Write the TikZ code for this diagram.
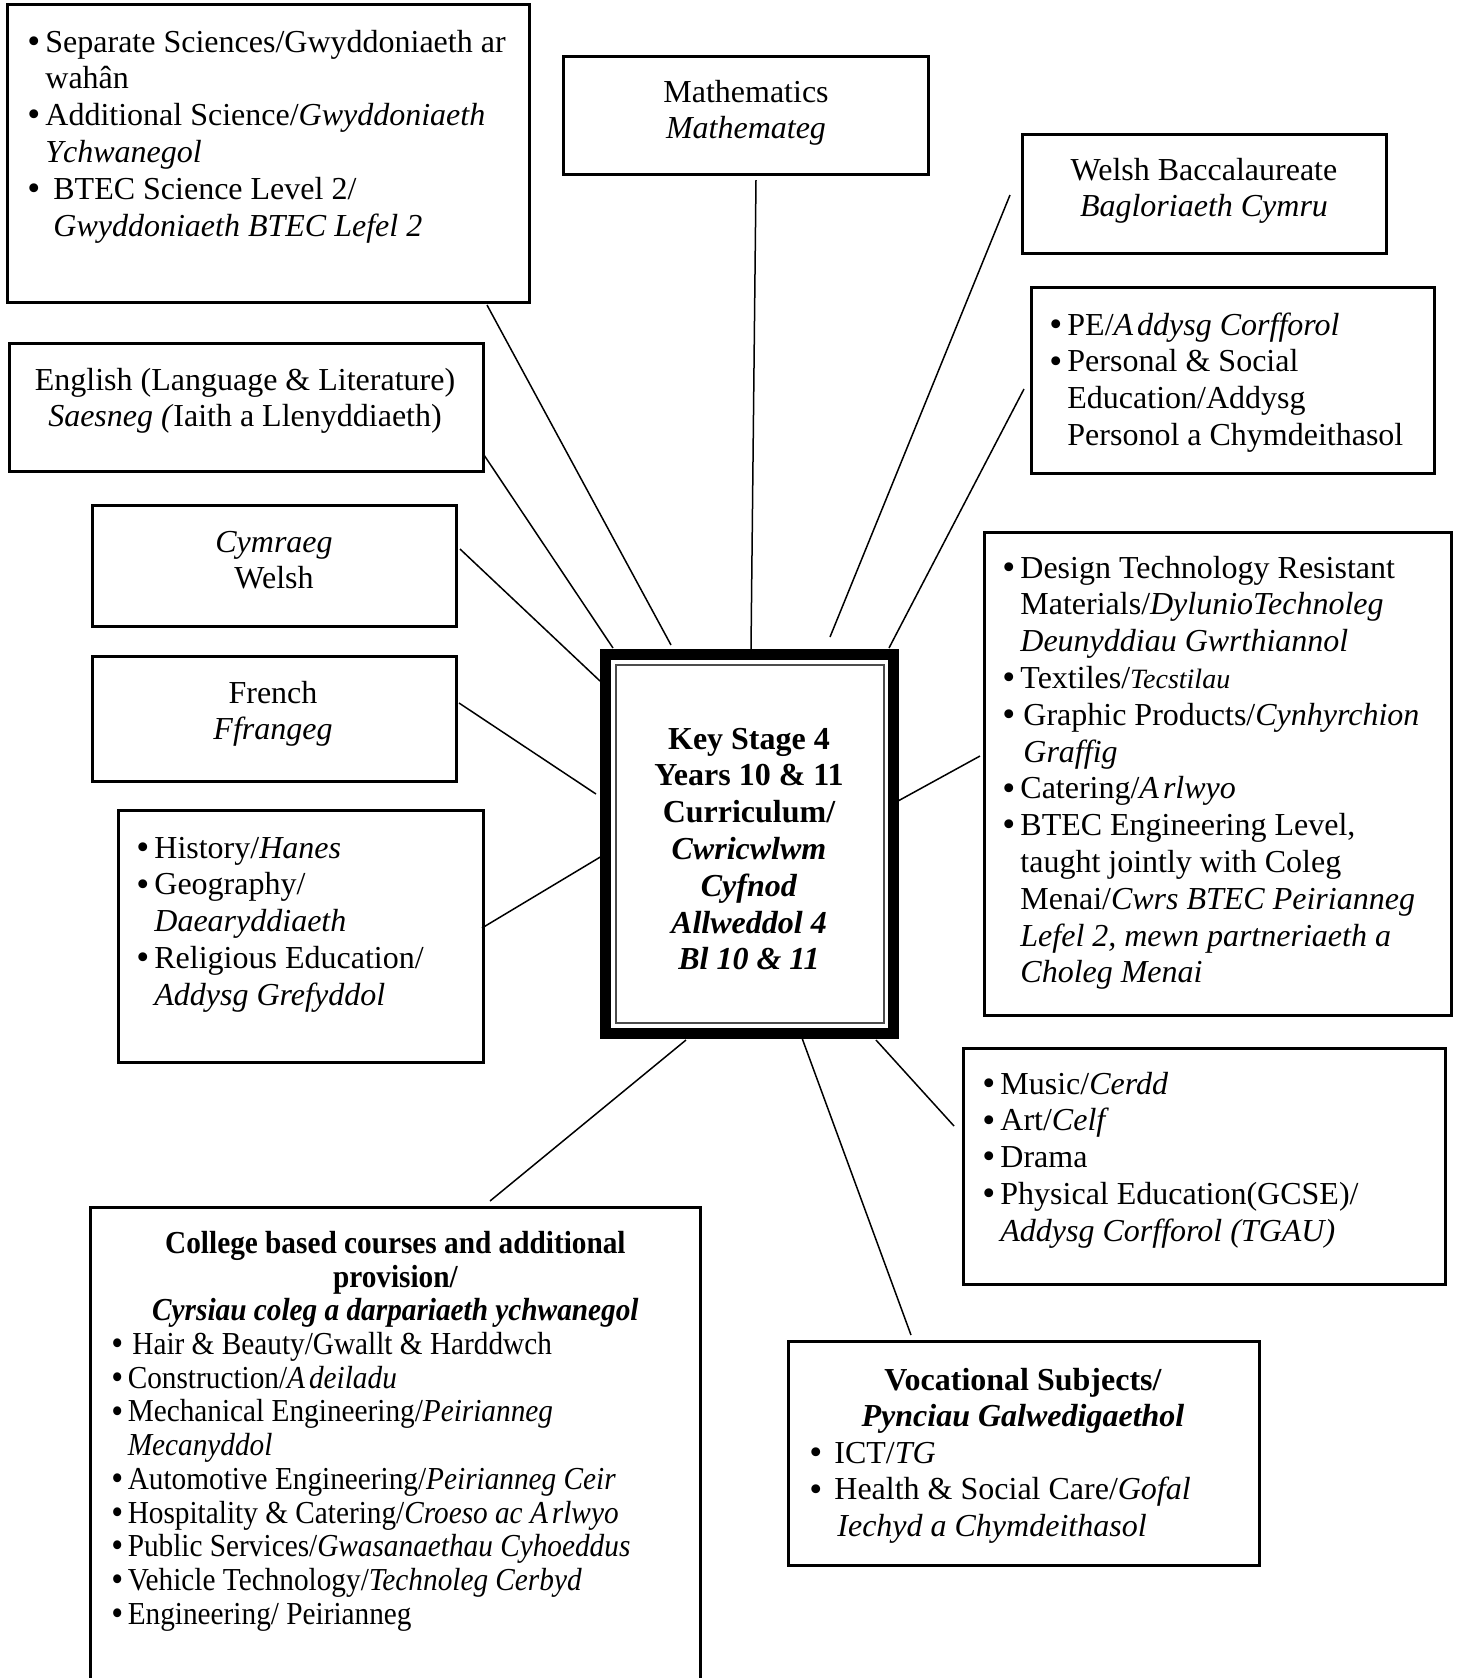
\documentclass[tikz,border=0pt]{standalone}
\usepackage{fontspec}
\setmainfont{Liberation Serif}
\newfontfamily\condfont[FakeStretch=0.915]{Liberation Serif}
\usetikzlibrary{fit}
\newcommand\fs{\fontsize{16pt}{18.4pt}\selectfont}
\newcommand\fsc{\condfont\fontsize{16pt}{16.85pt}\selectfont}
\newcommand\dotb{\raisebox{-0.6pt}{\fontsize{18.5pt}{12pt}\selectfont •}}
\newcommand\bl{\strut\makebox[6.5pt][l]{\hspace*{-2.5pt}\dotb}}
\newcommand\blw{\strut\makebox[12pt][l]{\hspace*{-0.5pt}\dotb}}
\newcommand\blc{\strut\makebox[5.7pt][l]{\hspace*{-2.5pt}\dotb}}
\newcommand\ind{\strut\hspace*{6.5pt}}
\newcommand\indc{\strut\hspace*{5.7pt}}
\newcommand\ctl[1]{\makebox[279pt][c]{\bfseries #1}}
\begin{document}
\begin{tikzpicture}[x=0.5pt,y=-0.5pt]
\tikzset{
  box/.style={draw, line width=1.5pt, inner sep=0pt},
  txt/.style={inner sep=0pt, anchor=north west, align=left, font=\fs},
  ctxt/.style={inner sep=0pt, anchor=north, align=center, font=\fs},
  link/.style={line width=0.75pt},
}
\useasboundingbox (0,0) rectangle (1459,1678);
\clip (0,0) rectangle (1459,1678);
% boxes
\node[box, fit={(7,4)(529,302)}] (sci) {};
\node[box, fit={(563,56)(928,174)}] (math) {};
\node[box, fit={(1022,134)(1386,253)}] (bacc) {};
\node[box, fit={(1031,287)(1434,473)}] (pe) {};
\node[box, fit={(9,343)(483,471)}] (eng) {};
\node[box, fit={(92,505)(456,626)}] (cym) {};
\node[box, fit={(92,656)(456,781)}] (fr) {};
\node[box, fit={(118,810)(483,1062)}] (hist) {};
\node[box, fit={(984,532)(1451,1015)}] (dt) {};
\node[box, fit={(963,1048)(1445,1284)}] (mus) {};
\node[box, fit={(788,1341)(1259,1565)}] (voc) {};
\node[box, fit={(90,1207)(700,1720)}] (col) {};
% centre box
\node[inner sep=0pt, fit={(600,649)(899,1039)}] (ks) {};
\draw[line width=5.5pt] (605.5,654.5) rectangle (893.5,1033.5);
\draw[line width=0.6pt, black!70] (616,665) rectangle (884,1023);
% texts
\node[txt] (scit) at (32,26) {\bl Separate Sciences/Gwyddoniaeth ar\\
\ind wahân\\
\bl Additional Science/\textit{Gwyddoniaeth}\\
\ind \textit{Ychwanegol}\\
\bl\hspace{4pt}BTEC Science Level 2/\\
\ind\hspace{4pt}\textit{Gwyddoniaeth BTEC Lefel 2}};
\node[ctxt] (matht) at (746,76) {\strut Mathematics\\ \textit{Mathemateg}};
\node[ctxt] (bacct) at (1204,154) {\strut Welsh Baccalaureate\\ \textit{Bagloriaeth Cymru}};
\node[txt] (pet) at (1054,309) {\bl PE/\textit{A\kern2pt ddysg Corfforol}\\
\bl Personal \& Social\\
\ind Education/Addysg\\
\ind Personol a Chymdeithasol};
\node[ctxt] (engt) at (245,364) {\strut English (Language \& Literature)\\ \textit{Saesneg (}Iaith a Llenyddiaeth)};
\node[ctxt] (cymt) at (274,526) {\strut\textit{Cymraeg}\\ Welsh};
\node[ctxt] (frt) at (273,677) {\strut French\\ \textit{Ffrangeg}};
\node[txt] (histt) at (141,832) {\bl History/\textit{Hanes}\\
\bl Geography/\\
\ind \textit{Daearyddiaeth}\\
\bl Religious Education/\\
\ind \textit{Addysg Grefyddol}};
\node[ctxt, font=\fs\bfseries] (kst) at (749,723) {\strut Key Stage 4\\ Years 10 \& 11\\ Curriculum/\\
\textit{Cwricwlwm}\\ \textit{Cyfnod}\\ \textit{Allweddol 4}\\ \textit{Bl 10 \& 11}};
\node[txt] (dtt) at (1007,552) {\bl Design Technology Resistant\\
\ind Materials/\textit{DylunioTechnoleg}\\
\ind \textit{Deunyddiau Gwrthiannol}\\
\bl Textiles/{\fontsize{14pt}{18.4pt}\selectfont\textit{Tecstilau}}\\
\bl\hspace{1.5pt}Graphic Products/\textit{Cynhyrchion}\\
\ind\hspace{1.5pt}\textit{Graffig}\\
\bl Catering/\textit{A\kern2pt rlwyo}\\
\bl BTEC Engineering Level,\\
\ind taught jointly with Coleg\\
\ind Menai/\textit{Cwrs BTEC Peirianneg}\\
\ind \textit{Lefel 2, mewn partneriaeth a}\\
\ind \textit{Choleg Menai}};
\node[txt] (must) at (987,1068) {\bl Music/\textit{Cerdd}\\
\bl Art/\textit{Celf}\\
\bl Drama\\
\bl Physical Education(GCSE)/\\
\ind \textit{Addysg Corfforol (TGAU)}};
\node[ctxt, font=\fs\bfseries] (voct) at (1023,1364) {\strut Vocational Subjects/\\ \textit{Pynciau Galwedigaethol}};
\node[txt] (vocl) at (810,1437) {\blw ICT/\textit{TG}\\
\blw Health \& Social Care/\textit{Gofal}\\
\strut\hspace*{13.5pt}\textit{Iechyd a Chymdeithasol}};
\node[txt, font=\fsc] (coll) at (116,1229.4) {\strut\ctl{College based courses and additional}\\
\ctl{provision/}\\
\ctl{\itshape Cyrsiau coleg a darpariaeth ychwanegol}\\
\blc\hspace{2.3pt}Hair \& Beauty/Gwallt \& Harddwch\\
\blc Construction/\textit{A\kern2pt deiladu}\\
\blc Mechanical Engineering/\textit{Peirianneg}\\
\indc \textit{Mecanyddol}\\
\blc Automotive Engineering/\textit{Peirianneg Ceir}\\
\blc Hospitality \& Catering/\textit{Croeso ac A\kern2pt rlwyo}\\
\blc Public Services/\textit{Gwasanaethau Cyhoeddus}\\
\blc Vehicle Technology/\textit{Technoleg Cerbyd}\\
\blc Engineering/ Peirianneg};
% connector end points
\coordinate (sci-a) at (487,305);  \coordinate (sci-b) at (671,645);
\coordinate (math-a) at (756,180); \coordinate (math-b) at (751,649);
\coordinate (bacc-a) at (1010,195); \coordinate (bacc-b) at (830,637);
\coordinate (pe-a) at (1024,389);  \coordinate (pe-b) at (889,648);
\coordinate (eng-a) at (484,455);  \coordinate (eng-b) at (613,648);
\coordinate (cym-a) at (460,549);  \coordinate (cym-b) at (600,681);
\coordinate (fr-a) at (459,703);   \coordinate (fr-b) at (596,794);
\coordinate (hist-a) at (482,928); \coordinate (hist-b) at (602,856);
\coordinate (dt-a) at (980,756);   \coordinate (dt-b) at (898,801);
\coordinate (mus-a) at (954,1126); \coordinate (mus-b) at (876,1040);
\coordinate (voc-a) at (911,1335); \coordinate (voc-b) at (802,1038);
\coordinate (col-a) at (490,1201); \coordinate (col-b) at (686,1040);
\foreach \n in {sci,math,bacc,pe,eng,cym,fr,hist,dt,mus,voc,col}
  \draw[link] (\n-a) -- (\n-b);
\end{tikzpicture}
\end{document}
